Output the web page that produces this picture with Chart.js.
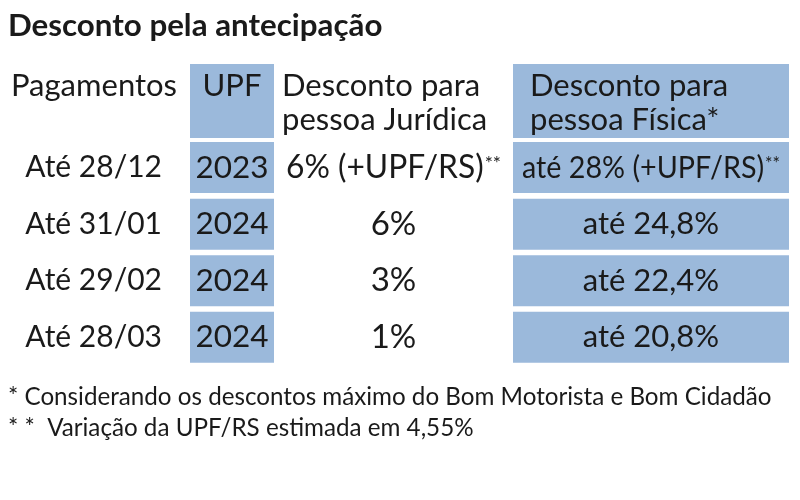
<!DOCTYPE html>
<html>
<head>
<meta charset="utf-8">
<script src="https://cdn.jsdelivr.net/npm/chart.js@4.4.1/dist/chart.umd.min.js"></script>
<style>
  html, body { margin: 0; padding: 0; background: #ffffff; }
  #wrap { width: 800px; height: 500px; }
</style>
</head>
<body>
<div id="wrap"><canvas id="c" width="800" height="500"></canvas></div>
<script>
const titleText = 'Desconto pela antecipação';
const headerLabels = ['Pagamentos', 'UPF', ['Desconto para', 'pessoa Jurídica'], ['Desconto para', 'pessoa Física*']];
const paymentDates = ['Até 28/12', 'Até 31/01', 'Até 29/02', 'Até 28/03'];
const upfYears = [2023, 2024, 2024, 2024];
const discountPJ = [6, 6, 3, 1];            // % pessoa jurídica
const discountPF = [28, 24.8, 22.4, 20.8];  // % pessoa física (até)
const upfNote = [' (+UPF/RS)', '', '', ''];
const upfNoteMark = ['**', '', '', ''];
const footnotes = [
  '* Considerando os descontos máximo do Bom Motorista e Bom Cidadão',
  '* *  Variação da UPF/RS estimada em 4,55%'
];

// ---------- layout / style ----------
const INK = '#1a1a1a';
const BLUE = 'rgb(155,185,219)';
const NONE = 'rgba(0,0,0,0)';
const COL = { upf: [190, 274], pj: [274, 513], pf: [513, 789] };
const FONT = 'Lato';

const pct = v => String(v).replace('.', ',') + '%';
const rowCell = (lines, sup) => ({ lines, sup: sup || '' });

const datasets = [
  {
    label: 'Cabeçalho',
    yAxisID: 'yh',
    data: [
      { x: COL.upf, y: headerLabels[0] },
      { x: COL.pj, y: headerLabels[0] },
      { x: COL.pf, y: headerLabels[0] }
    ],
    backgroundColor: [BLUE, NONE, BLUE],
    barPercentage: 0.966,
    cells: [rowCell([headerLabels[1], '']), rowCell(headerLabels[2]), rowCell(headerLabels[3])],
    cellAlign: ['center', 'left', 'left'],
    cellInset: [0, 8, 17],
    cellSize: 31,
    cellShift: 2
  },
  {
    label: 'UPF',
    yAxisID: 'y',
    data: paymentDates.map(d => ({ x: COL.upf, y: d })),
    backgroundColor: BLUE,
    barPercentage: 0.902,
    cells: upfYears.map(v => rowCell([String(v)])),
    cellAlign: 'center',
    cellSize: 31.5
  },
  {
    label: 'Desconto para pessoa Jurídica',
    yAxisID: 'y',
    data: paymentDates.map(d => ({ x: COL.pj, y: d })),
    backgroundColor: NONE,
    barPercentage: 0.902,
    cells: discountPJ.map((v, i) => rowCell([pct(v) + upfNote[i]], upfNoteMark[i])),
    cellAlign: 'center',
    cellSize: 33,
    cellPad: 12
  },
  {
    label: 'Desconto para pessoa Física',
    yAxisID: 'y',
    data: paymentDates.map(d => ({ x: COL.pf, y: d })),
    backgroundColor: BLUE,
    barPercentage: 0.902,
    cells: discountPF.map((v, i) => rowCell(['até ' + pct(v) + upfNote[i]], upfNoteMark[i])),
    cellAlign: 'center',
    cellSize: 31,
    cellPad: 9
  }
];

const cellTextPlugin = {
  id: 'cellText',
  afterDatasetsDraw(chart) {
    const ctx = chart.ctx;
    ctx.save();
    ctx.fillStyle = INK;
    ctx.textBaseline = 'middle';
    ctx.textAlign = 'left';
    chart.data.datasets.forEach((ds, di) => {
      const meta = chart.getDatasetMeta(di);
      meta.data.forEach((el, i) => {
        const cell = ds.cells[i];
        if (!cell) return;
        const align = Array.isArray(ds.cellAlign) ? ds.cellAlign[i] : ds.cellAlign;
        const inset = Array.isArray(ds.cellInset) ? ds.cellInset[i] : (ds.cellInset || 0);
        const left = Math.min(el.x, el.base), right = Math.max(el.x, el.base);
        const size = ds.cellSize;
        const supSize = Math.round(size * 0.6);
        const lh = 34;
        const n = cell.lines.length;
        cell.lines.forEach((line, k) => {
          const y = el.y + (k - (n - 1) / 2) * lh + (ds.cellShift || 0);
          const sup = k === n - 1 ? cell.sup : '';
          ctx.font = `${size}px ${FONT}`;
          const w1 = ctx.measureText(line).width;
          ctx.font = `${supSize}px ${FONT}`;
          const w2 = sup ? ctx.measureText(sup).width + 1 : 0;
          const total = w1 + w2;
          let sx = 1;
          if (ds.cellPad !== undefined) {
            const avail = (right - left) - 2 * ds.cellPad;
            if (total > avail) sx = avail / total;
          }
          const drawW = total * sx;
          const x0 = align === 'center' ? (left + right) / 2 - drawW / 2 : left + inset;
          ctx.save();
          ctx.translate(x0, 0);
          ctx.scale(sx, 1);
          ctx.font = `${size}px ${FONT}`;
          ctx.fillText(line, 0, y);
          if (sup) {
            ctx.font = `${supSize}px ${FONT}`;
            ctx.fillText(sup, w1 + 1, y - 4);
          }
          ctx.restore();
        });
      });
    });
    ctx.restore();
  }
};

Chart.defaults.font.family = FONT;

new Chart(document.getElementById('c'), {
  type: 'bar',
  data: { datasets },
  plugins: [cellTextPlugin],
  options: {
    responsive: false,
    animation: false,
    indexAxis: 'y',
    layout: { padding: { left: 8, right: 10, top: 0, bottom: 0 } },
    datasets: { bar: { grouped: false, categoryPercentage: 1, borderWidth: 0 } },
    plugins: {
      legend: { display: false },
      tooltip: { enabled: false },
      title: {
        display: true, text: titleText, align: 'start', color: INK,
        font: { family: FONT, size: 31.3, weight: 'bold', lineHeight: '36px' },
        padding: { top: 8, bottom: 18.7 }
      },
      subtitle: {
        display: true, position: 'bottom', align: 'start', text: footnotes, color: INK,
        font: { family: FONT, size: 24.2, lineHeight: '31px' },
        padding: { top: 15.9, bottom: 56.5 }
      }
    },
    scales: {
      x: { type: 'linear', min: 190, max: 790, display: false },
      yh: {
        type: 'category', labels: [headerLabels[0]], position: 'left',
        stack: 'table', stackWeight: 76.6, weight: 1, offset: true,
        grid: { display: false, drawTicks: false }, border: { display: false },
        ticks: { color: INK, font: { family: FONT, size: 31 }, crossAlign: 'center', padding: 13, labelOffset: -15, autoSkip: false },
        afterFit: s => { s.width = 182; }
      },
      y: {
        type: 'category', labels: paymentDates, position: 'left',
        stack: 'table', stackWeight: 226.3, weight: 0, offset: true,
        grid: { display: false, drawTicks: false }, border: { display: false },
        ticks: { color: INK, font: { family: FONT, size: 30 }, crossAlign: 'center', padding: 28, autoSkip: false },
        afterFit: s => { s.width = 182; }
      }
    }
  }
});
</script>
</body>
</html>
